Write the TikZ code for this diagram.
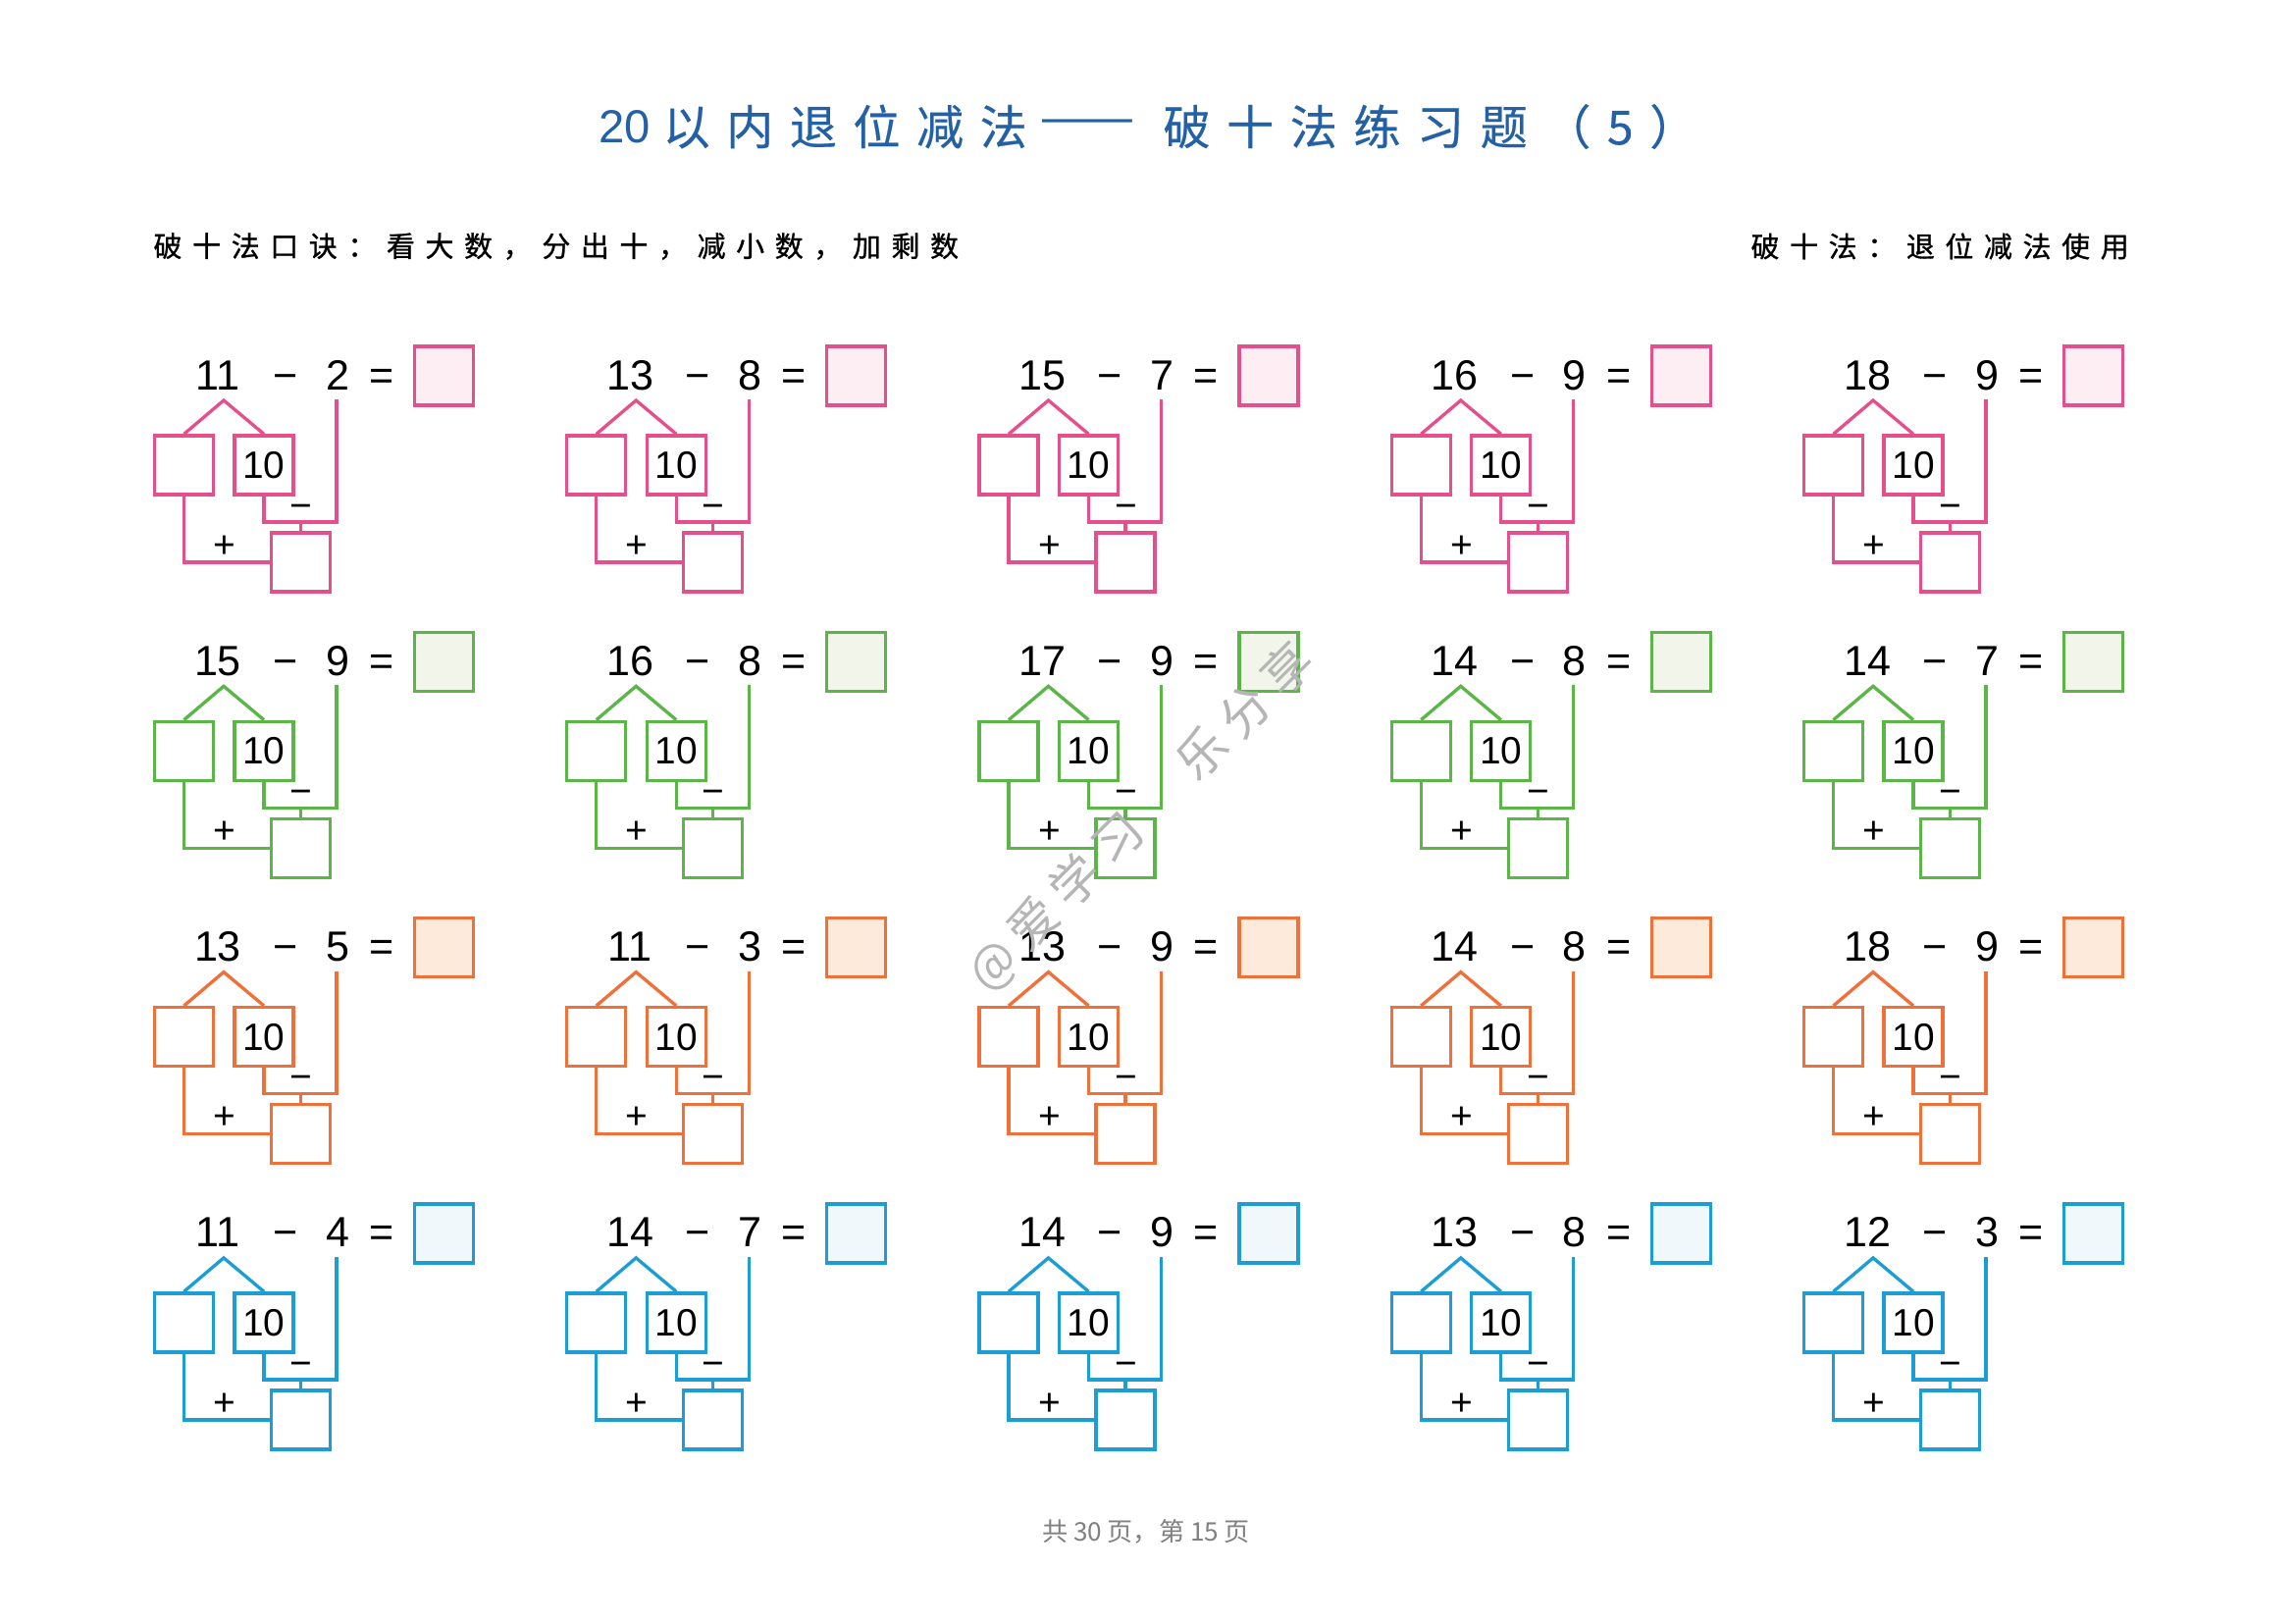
\documentclass[tikz,border=0pt]{standalone}
\usepackage{fontspec}
\setmainfont{Liberation Sans}
\newfontfamily\cjk{Noto Sans CJK SC}
\newfontfamily\cjkdash[FakeBold=0.4]{Noto Sans CJK SC}
\newfontfamily\cjktitle[LetterSpace=34.5,FakeBold=0.4]{Noto Sans CJK SC}
\newfontfamily\cjksub[LetterSpace=37,FakeBold=1]{Noto Sans CJK SC}
\newfontfamily\cjkwm[LetterSpace=22]{Noto Sans CJK SC}
\definecolor{pinkL}{HTML}{E5508C}\definecolor{pinkF}{HTML}{FDEEF3}
\definecolor{greenL}{HTML}{5CB548}\definecolor{greenF}{HTML}{F1F5EA}
\definecolor{orangeL}{HTML}{EF7039}\definecolor{orangeF}{HTML}{FDEADB}
\definecolor{blueL}{HTML}{1C9ED4}\definecolor{blueF}{HTML}{F1F8FC}
\definecolor{titleblue}{HTML}{2360A5}
\definecolor{footgray}{HTML}{808080}
\definecolor{wmgray}{HTML}{B5B5B5}
\tikzset{
  ln/.style={draw=lc, line width=1.2pt},
  nbox/.style={draw=lc, line width=1.2pt, fill=white, minimum size=21.6pt, inner sep=0pt, font=\fontsize{14}{14}\selectfont},
  abox/.style={draw=lc, line width=1.2pt, fill=fc, minimum size=21.6pt, inner sep=0pt},
  num/.style={anchor=base, inner sep=0pt, font=\fontsize{15.5}{15.5}\selectfont},
  lab/.style={inner sep=0pt, font=\fontsize{14}{14}\selectfont},
  ttl/.style={anchor=west, inner sep=0pt, text=titleblue},
}
\begin{document}
\begin{tikzpicture}[x=0.36pt, y=-0.36pt]
\useasboundingbox (0,0) rectangle (2339,1654);
\fill[white] (0,0) rectangle (2339,1654);
% title
\node[ttl, font=\fontsize{17}{17}\selectfont] (t1) at (610,129) {20};
\node[ttl, font=\fontsize{17.3}{17.3}\cjktitle] (t2) at (675,129) {以内退位减法};
\node[ttl, font=\fontsize{17.3}{17.3}\cjkdash] (t3) at (1059,129) {\scalebox{1.2}[1]{——}};
\node[ttl, font=\fontsize{17.3}{17.3}\cjktitle] (t4) at (1185,129) {破十法练习题（5）};
% subtitles
\node[anchor=west, inner sep=0pt, font=\fontsize{10.4}{10.4}\cjksub] (s1) at (156,251) {破十法口诀：看大数，分出十，减小数，加剩数};
\node[anchor=west, inner sep=0pt, font=\fontsize{10.4}{10.4}\cjksub] (s2) at (1784,251) {破十法：退位减法使用};
% units
\foreach \c/\r/\a/\b in {0/0/11/2, 1/0/13/8, 2/0/15/7, 3/0/16/9, 4/0/18/9,
  0/1/15/9, 1/1/16/8, 2/1/17/9, 3/1/14/8, 4/1/14/7,
  0/2/13/5, 1/2/11/3, 2/2/13/9, 3/2/14/8, 4/2/18/9,
  0/3/11/4, 1/3/14/7, 2/3/14/9, 3/3/13/8, 4/3/12/3}{
  \ifcase\r \colorlet{lc}{pinkL}\colorlet{fc}{pinkF}%
  \or \colorlet{lc}{greenL}\colorlet{fc}{greenF}%
  \or \colorlet{lc}{orangeL}\colorlet{fc}{orangeF}%
  \or \colorlet{lc}{blueL}\colorlet{fc}{blueF}\fi
  \begin{scope}[shift={(420.25*\c,291.3*\r)}]
    \node[nbox] (L-\c-\r) at (187.5,474) {};
    \node[nbox] (T-\c-\r) at (269,474) {10};
    \node[nbox] (B-\c-\r) at (306.5,573) {};
    \node[abox] (A-\c-\r) at (452.5,383) {};
    \node[num] (N-\c-\r) at (222,397) {\a};
    \node[num] (M-\c-\r) at (291,397) {−};
    \node[num] (S-\c-\r) at (344,397) {\b};
    \node[num] (E-\c-\r) at (389,397) {=};
    \coordinate (P-\c-\r) at (228,408);
    \coordinate (R-\c-\r) at (343,407);
    \coordinate (K-\c-\r) at (343,532);
    \draw[ln] (L-\c-\r.north) -- (P-\c-\r) -- (T-\c-\r.north);
    \draw[ln] (T-\c-\r.south) |- (K-\c-\r) -- (R-\c-\r);
    \draw[ln] (B-\c-\r.north) -- (B-\c-\r.north |- K-\c-\r);
    \draw[ln] (L-\c-\r.south) |- (B-\c-\r.west);
    \node[lab] (pl-\c-\r) at (229,557) {+};
    \node[lab] (mi-\c-\r) at (307,521) {−};
  \end{scope}
}
% footer
\node[text=footgray, inner sep=0pt, font=\fontsize{9.4}{9.4}\cjk] (foot) at (1168,1561) {共 30 页，第 15 页};
% watermark
\node[text=wmgray, inner sep=0pt, rotate=45, font=\fontsize{18}{18}\cjkwm] (wm) at (1163,833) {@爱学习　乐分享};
\end{tikzpicture}
\end{document}
